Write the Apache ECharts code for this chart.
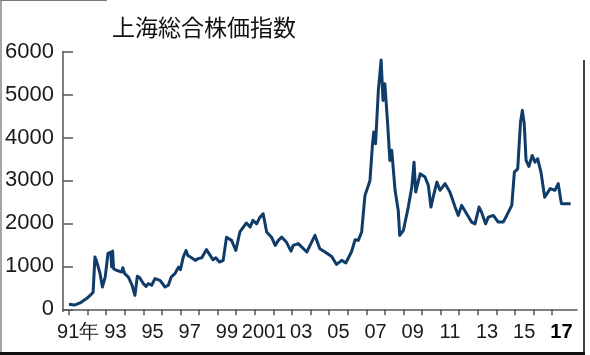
<!DOCTYPE html>
<html>
<head>
<meta charset="utf-8">
<script src="https://cdn.jsdelivr.net/npm/echarts@6/dist/echarts.min.js"></script>
<style>
html,body{margin:0;padding:0;background:#fff;}
#c{width:590px;height:355px;}
</style>
</head>
<body>
<div id="c"></div>
<script>
// Data (decimal year, index value)
var years = [
  1991.0, 1991.3, 1991.6, 1991.95, 1992.2, 1992.3, 1992.4, 1992.5, 1992.67, 1992.8,
  1992.95, 1993.1, 1993.25, 1993.3, 1993.35, 1993.4, 1993.55, 1993.85, 1993.9, 1994.0,
  1994.2, 1994.4, 1994.55, 1994.68, 1994.8, 1995.0, 1995.15, 1995.27, 1995.45, 1995.63,
  1995.9, 1996.17, 1996.35, 1996.5, 1996.7, 1996.9, 1997.0, 1997.15, 1997.3, 1997.4,
  1997.6, 1997.8, 1997.95, 1998.15, 1998.4, 1998.6, 1998.75, 1998.9, 1999.1, 1999.3,
  1999.48, 1999.75, 1999.98, 2000.2, 2000.55, 2000.75, 2000.9, 2001.1, 2001.25, 2001.45,
  2001.64, 2001.9, 2002.1, 2002.27, 2002.45, 2002.7, 2002.95, 2003.07, 2003.34, 2003.8,
  2004.02, 2004.24, 2004.5, 2004.78, 2005.14, 2005.4, 2005.68, 2005.9, 2006.2, 2006.4,
  2006.57, 2006.75, 2006.93, 2007.2, 2007.33, 2007.4, 2007.5, 2007.65, 2007.8, 2007.9,
  2008.0, 2008.15, 2008.27, 2008.37, 2008.55, 2008.72, 2008.8, 2009.0, 2009.26, 2009.45,
  2009.57, 2009.66, 2009.9, 2010.16, 2010.34, 2010.48, 2010.6, 2010.8, 2010.97, 2011.24,
  2011.5, 2011.78, 2011.95, 2012.13, 2012.4, 2012.67, 2012.85, 2013.07, 2013.2, 2013.42,
  2013.57, 2013.84, 2014.1, 2014.37, 2014.56, 2014.83, 2014.97, 2015.15, 2015.3, 2015.4,
  2015.5, 2015.6, 2015.75, 2015.93, 2016.08, 2016.22, 2016.4, 2016.6, 2016.9, 2017.15,
  2017.33, 2017.5, 2017.77, 2018.0
];
var values = [
  120, 100, 150, 250, 350, 400, 1220, 1100, 840, 520,
  750, 1300, 1330, 985, 1355, 945, 910, 870, 970, 830,
  750, 560, 325, 770, 740, 600, 535, 600, 560, 715,
  675, 520, 560, 750, 830, 985, 925, 1215, 1370, 1255,
  1200, 1140, 1180, 1200, 1390, 1255, 1155, 1200, 1100, 1140,
  1680, 1605, 1370, 1800, 2010, 1915, 2070, 1990, 2125, 2225,
  1800, 1680, 1490, 1605, 1680, 1565, 1355, 1490, 1530, 1335,
  1530, 1720, 1410, 1335, 1230, 1045, 1140, 1080, 1335, 1620,
  1605, 1800, 2650, 3000, 3815, 4125, 3855, 5095, 5800, 4860,
  5250, 4320, 3465, 3700, 2770, 2300, 1720, 1840, 2380, 2845,
  3425, 2730, 3155, 3080, 2885, 2380, 2610, 2960, 2770, 2925,
  2730, 2380, 2185, 2420, 2225, 2030, 1990, 2380, 2265, 1990,
  2145, 2185, 2030, 2030, 2185, 2420, 3195, 3270, 4360, 4630,
  4320, 3465, 3325, 3580, 3425, 3505, 3195, 2610, 2810, 2770,
  2925, 2460, 2460, 2460
];
var tickYears = [];
for (var y = 1991; y <= 2017; y++) tickYears.push(y);
var labelYears = [1991, 1993, 1995, 1997, 1999, 2001, 2003, 2005, 2007, 2009, 2011, 2013, 2015, 2017];
var labelText = ['91年', '93', '95', '97', '99', '2001', '03', '05', '07', '09', '11', '13', '15', '17'];
var yTicks = [0, 1000, 2000, 3000, 4000, 5000, 6000];
var titleText = '上海総合株価指数';

var seriesData = years.map(function (yr, i) { return [yr, values[i]]; });
var labelPositions = labelYears.map(function (yr) { return yr + 0.5; });

var chart = echarts.init(document.getElementById('c'), null, {renderer: 'canvas'});
var font = '"Liberation Sans", Arial, sans-serif';
chart.setOption({
  animation: false,
  backgroundColor: '#ffffff',
  title: {
    text: titleText,
    left: 107,
    top: 11,
    textStyle: {
      fontFamily: '"Noto Sans CJK JP", sans-serif',
      fontSize: 23,
      fontWeight: 'normal',
      color: '#111'
    }
  },
  grid: {
    left: 63,
    right: 13,
    top: 51.5,
    bottom: 43.5,
    containLabel: false,
    outerBoundsMode: 'none'
  },
  xAxis: {
    type: 'value',
    min: 1990.68,
    max: 2018.34,
    splitLine: {show: false},
    axisLine: {show: true, lineStyle: {color: '#555', width: 1.5}},
    axisTick: {
      show: true,
      customValues: tickYears,
      length: 6,
      lineStyle: {color: '#555', width: 1.5}
    },
    axisLabel: {
      show: true,
      customValues: labelPositions,
      interval: 0,
      hideOverlap: false,
      showMinLabel: true,
      showMaxLabel: true,
      margin: 11,
      fontFamily: font,
      fontSize: 20,
      color: '#1a1a1a',
      formatter: function (v) {
        var idx = labelYears.indexOf(Math.round(v - 0.5));
        if (idx < 0) return '';
        if (idx === labelText.length - 1) return '{b|' + labelText[idx] + '}';
        return labelText[idx];
      },
      rich: {
        b: {fontFamily: font, fontSize: 20, fontWeight: 'bold', color: '#000'}
      }
    }
  },
  yAxis: {
    type: 'value',
    min: -50,
    max: 6000,
    splitLine: {show: false},
    axisLine: {show: true, lineStyle: {color: '#555', width: 1.5}},
    axisTick: {
      show: true,
      inside: true,
      customValues: yTicks,
      length: 10,
      lineStyle: {color: '#555', width: 1.5}
    },
    axisLabel: {
      show: true,
      customValues: yTicks,
      interval: 0,
      hideOverlap: false,
      showMinLabel: true,
      showMaxLabel: true,
      margin: 9,
      fontFamily: font,
      fontSize: 22,
      color: '#1a1a1a',
      formatter: function (v) { return String(v); }
    }
  },
  graphic: [
    {type: 'line', shape: {x1: 0, y1: 0.5, x2: 107, y2: 0.5}, style: {stroke: '#777', lineWidth: 1}, silent: true},
    {type: 'line', shape: {x1: 1, y1: 0, x2: 1, y2: 352}, style: {stroke: '#888', lineWidth: 1.5}, silent: true},
    {type: 'line', shape: {x1: 584, y1: 60, x2: 584, y2: 352}, style: {stroke: '#444', lineWidth: 2}, silent: true},
    {type: 'line', shape: {x1: 0, y1: 353.5, x2: 585, y2: 353.5}, style: {stroke: '#111', lineWidth: 3}, silent: true}
  ],
  series: [{
    type: 'line',
    data: seriesData,
    showSymbol: false,
    smooth: false,
    lineStyle: {color: '#0f3c68', width: 3, join: 'round'},
    itemStyle: {color: '#0f3c68'}
  }]
});
</script>
</body>
</html>
